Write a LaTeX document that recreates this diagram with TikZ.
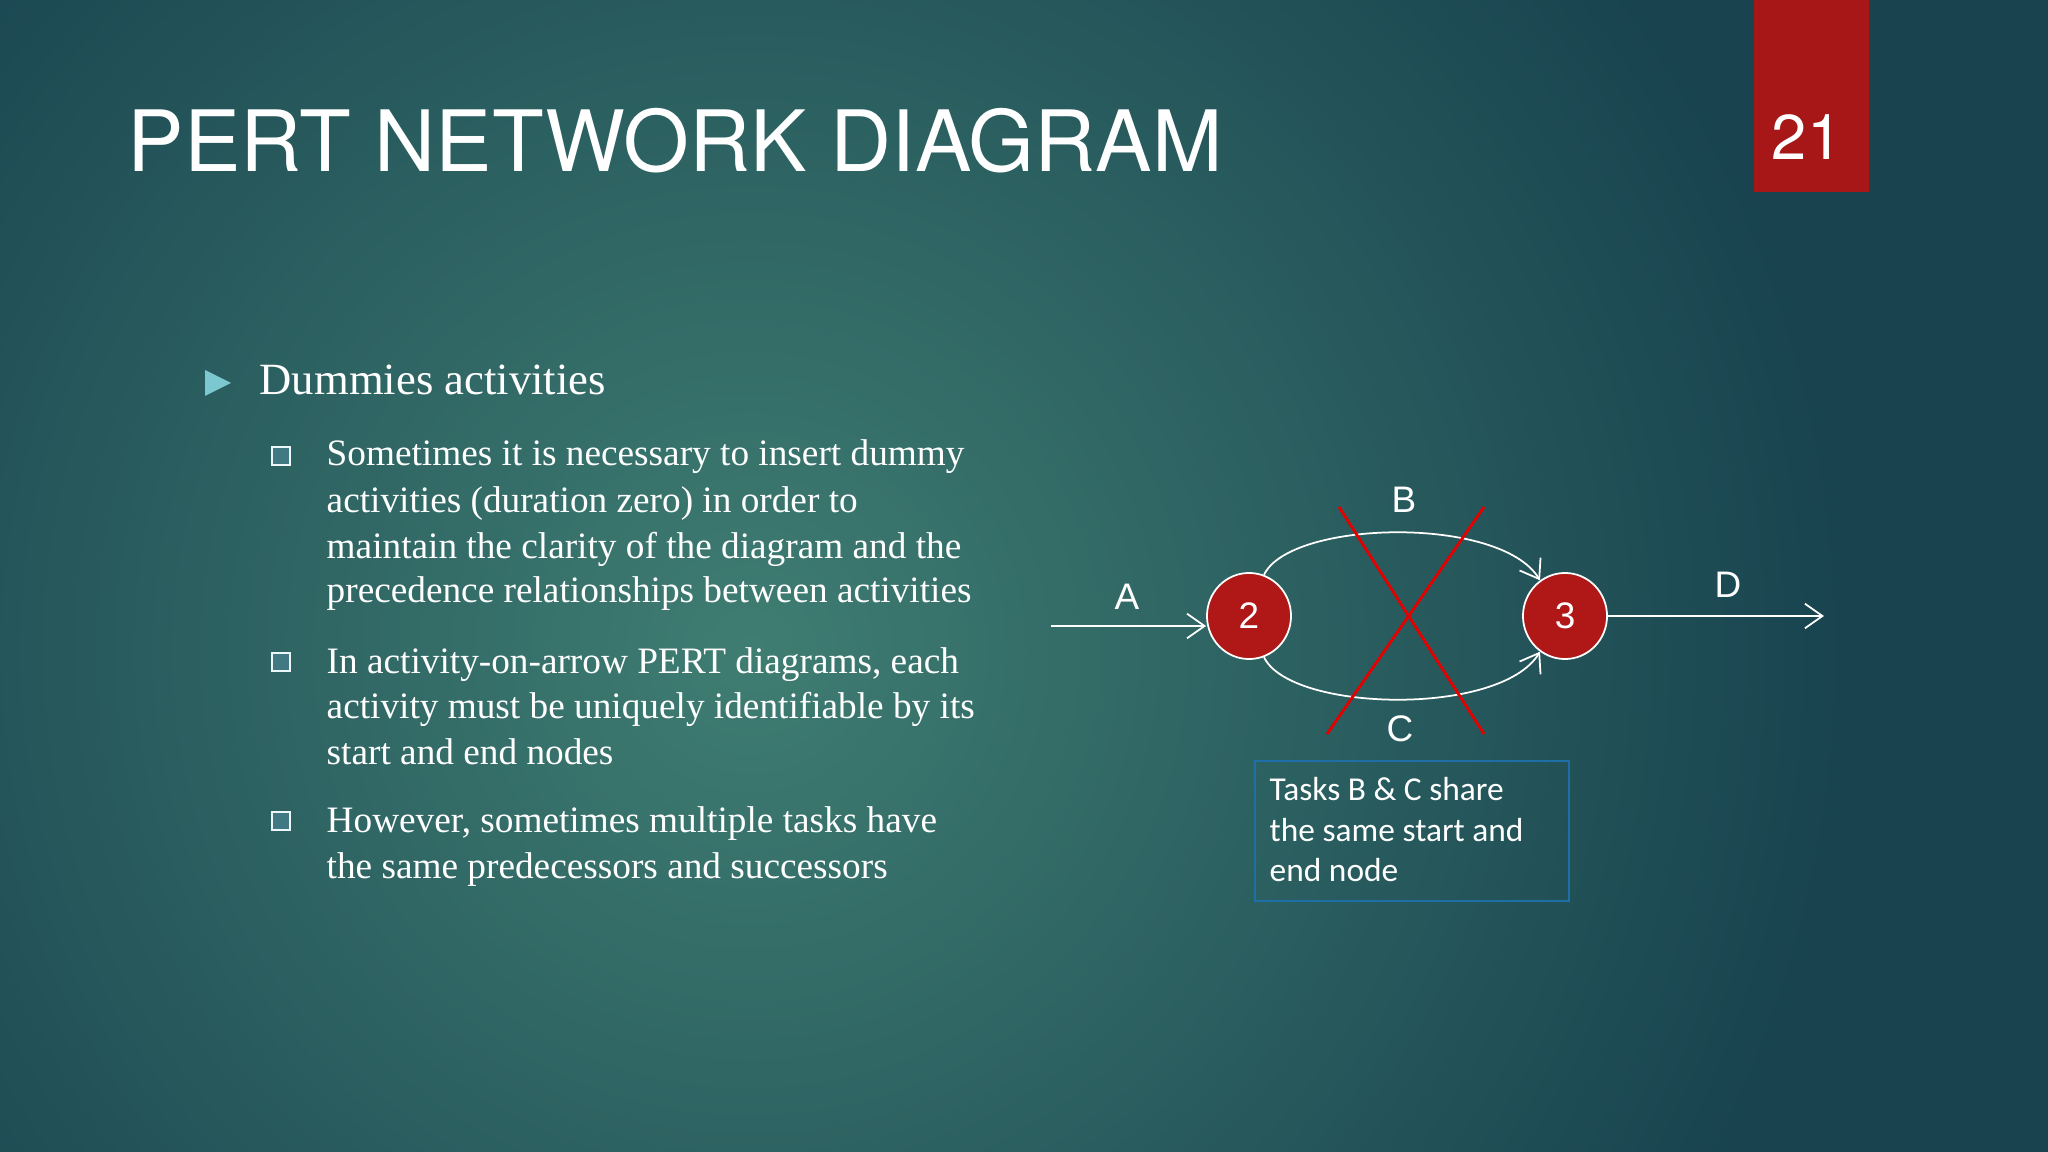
\documentclass[tikz,border=0pt]{standalone}
\usepackage{fontspec}
\setmainfont{Liberation Serif}
\newfontfamily\arialf{Liberation Sans}
\newfontfamily\calf{Carlito}
\newfontfamily\titlef{TeX Gyre Heros}
\usetikzlibrary{arrows.meta,shapes.geometric}
\definecolor{bgin}{HTML}{3F7D72}
\definecolor{bgout}{HTML}{18434F}
\definecolor{nodered}{HTML}{B01818}
\definecolor{boxblue}{HTML}{1E6FA8}
\definecolor{tri}{HTML}{7CC8D0}
\tikzset{
  ev/.style={ellipse, fill=nodered, draw=white, line width=0.5pt, minimum width=0.84cm, minimum height=0.86cm, inner sep=0pt, text=white, font=\arialf\fontsize{10.5}{12}\selectfont},
  lbl/.style={text=white, font=\arialf\fontsize{10.5}{12}\selectfont},
  act/.style={draw=white, line width=0.5pt, -{Straight Barb[length=5pt,width=7pt]}},
  cross/.style={draw=red!90!black, line width=0.8pt},
  body/.style={text=white, anchor=base west, font=\fontsize{10.6}{13}\selectfont, inner sep=0pt},
  sq/.style={draw=white!85!tri, fill=bgout!60!tri, minimum size=5pt, inner sep=0pt, line width=0.6pt}
}
\begin{document}
\begin{tikzpicture}[x=0.01cm,y=-0.01cm]
\useasboundingbox (0,0) rectangle (2048,1152);
\fill[bgout] (0,0) rectangle (2048,1152);
\shade[inner color=bgin, outer color=bgout] (750,650) circle (1100);
% title
\node[anchor=base west, inner sep=0pt, text=white] (title) at (127,172) {\resizebox{10.94cm}{!}{\titlef PERT NETWORK DIAGRAM}};
\fill[nodered!95!black] (1754,0) rectangle (1869,192);
\node[text=white, font=\titlef\fontsize{18}{22}\selectfont] (num) at (1807,137) {21};
% bullets
\fill[tri] (205,370) -- (231,383) -- (205,396) -- cycle;
\node[body, font=\fontsize{12.7}{14}\selectfont] (h) at (259,395) {Dummies activities};
\node[sq] (s1) at (281,456) {};
\node[body] (t1a) at (326,466) {Sometimes it is necessary to insert dummy};
\node[body] (t1b) at (326,512) {activities (duration zero) in order to};
\node[body] (t1c) at (326,558) {maintain the clarity of the diagram and the};
\node[body] (t1d) at (326,603) {precedence relationships between activities};
\node[sq] (s2) at (281,662) {};
\node[body] (t2a) at (326,673) {In activity-on-arrow PERT diagrams, each};
\node[body] (t2b) at (326,718) {activity must be uniquely identifiable by its};
\node[body] (t2c) at (326,764) {start and end nodes};
\node[sq] (s3) at (281,821) {};
\node[body] (t3a) at (326,832) {However, sometimes multiple tasks have};
\node[body] (t3b) at (326,878) {the same predecessors and successors};
% network
\node[ev] (n2) at (1249,616) {2};
\node[ev] (n3) at (1565,616) {3};
\coordinate (a0) at (1051,626);
\coordinate (d1) at (1824,616);
\draw[act] (a0) -- (n2.west |- a0);
\draw[act] (n3.east) -- (d1);
\draw[act] (n2.70) .. controls (1290,520) and (1500,515) .. (n3.125);
\draw[act] (n2.-70) .. controls (1290,712) and (1500,717) .. (n3.-125);
\node[lbl] (la) at (1127,597) {A};
\node[lbl] (ld) at (1728,585) {D};
\node[lbl] (lb) at (1404,500) {B};
\node[lbl] (lc) at (1400,729) {C};
\coordinate (x1) at (1339,507); \coordinate (x2) at (1484,734);
\coordinate (x3) at (1484,507); \coordinate (x4) at (1327,734);
\draw[cross] (x1) -- (x2);
\draw[cross] (x3) -- (x4);
\node[draw=boxblue, line width=0.6pt, minimum width=3.14cm, minimum height=1.4cm, anchor=north west] (box) at (1254,760) {};
\node[anchor=north west, text=white, align=left, font=\calf\fontsize{9.5}{11.5}\selectfont, inner sep=0pt] (boxt) at (1269,777) {Tasks B \& C share\\the same start and\\end node};
\end{tikzpicture}
\end{document}
